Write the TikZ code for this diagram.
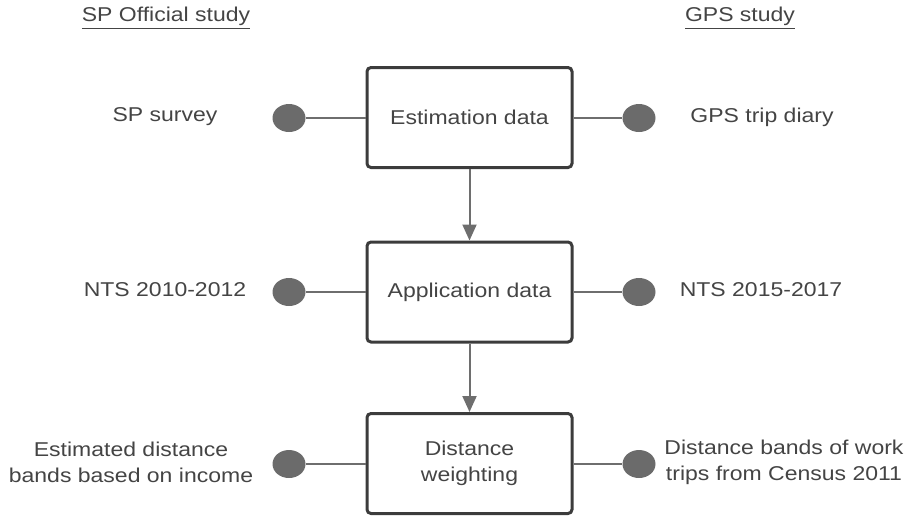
\documentclass[tikz,border=0pt]{standalone}
\usepackage{fontspec}
\setmainfont{Liberation Sans}[FakeStretch=1.15]
\usetikzlibrary{arrows.meta,shapes.geometric}
\definecolor{boxline}{HTML}{3C3C3C}
\definecolor{linkgray}{HTML}{6E6E6E}
\definecolor{dotgray}{HTML}{6B6B6B}
\definecolor{textgray}{HTML}{444444}

\begin{document}
\begin{tikzpicture}[x=0.5pt, y=-0.5pt, font=\fontsize{10}{13}\selectfont, text=textgray,
	stage/.style={rectangle, draw=boxline, line width=1.5pt, rounded corners=2pt, minimum width=102.5pt, minimum height=50pt, align=center},
	source/.style={ellipse, fill=dotgray, minimum width=16.5pt, minimum height=14pt, inner sep=0pt},
	info/.style={align=center},
	link/.style={draw=linkgray, line width=1pt},
	flow/.style={link, -{Triangle[width=7pt,length=8pt]}}]
	\useasboundingbox (0,0) rectangle (909,516);
	\node (SPH) at (166, 18)	[info]	{\underline{SP Official study}};
	\node (GPSH) at (740, 18)	[info]	{\underline{GPS study}};
	\node (EST) at (469.5, 117.5)	[stage]	{Estimation data};
	\node (APP) at (469.5, 292)	[stage]	{Application data};
	\node (DW) at (469.5, 463.5)	[stage]	{Distance\\weighting};
	\node (SP1) at (289, 118)	[source]	{};
	\node (SP2) at (289, 292)	[source]	{};
	\node (SP3) at (289, 464)	[source]	{};
	\node (GPS1) at (639, 118)	[source]	{};
	\node (GPS2) at (639, 292)	[source]	{};
	\node (GPS3) at (639, 464)	[source]	{};
	\node (SPT1) at (165, 117)	[info]	{SP survey};
	\node (SPT2) at (165, 290)	[info]	{NTS 2010-2012};
	\node (SPT3) at (131, 462)	[info]	{Estimated distance\\bands based on income};
	\node (GPST1) at (762, 117)	[info]	{GPS trip diary};
	\node (GPST2) at (761, 290)	[info]	{NTS 2015-2017};
	\node (GPST3) at (784, 462)	[info]	{Distance bands of work\\trips from Census 2011};
	\draw[link] (SP1) -- (SP1 -| EST.west);
	\draw[link] (GPS1) -- (GPS1 -| EST.east);
	\draw[link] (SP2) -- (SP2 -| APP.west);
	\draw[link] (GPS2) -- (GPS2 -| APP.east);
	\draw[link] (SP3) -- (SP3 -| DW.west);
	\draw[link] (GPS3) -- (GPS3 -| DW.east);
	\draw[flow] (EST) -- (APP);
	\draw[flow] (APP) -- (DW);
\end{tikzpicture}
\end{document}
